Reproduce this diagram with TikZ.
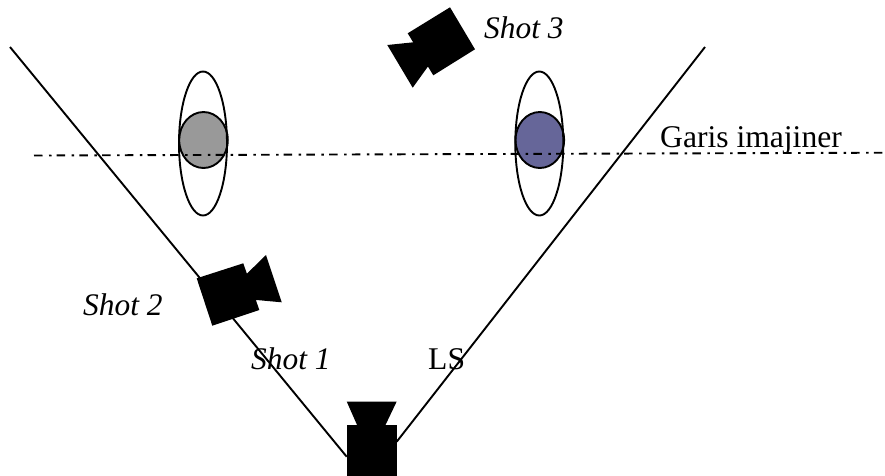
\documentclass[tikz,border=0pt]{standalone}
\usepackage{fontspec}
\setmainfont{Liberation Serif}
\definecolor{greydisc}{HTML}{999999}
\definecolor{bluedisc}{HTML}{666699}
\tikzset{
  x=1pt,y=-1pt,
  ln/.style={draw=black,line width=1.9pt},
  cam/.style={fill=black,draw=none},
  lbl/.style={anchor=base west,inner sep=0pt,font=\fontsize{31.6}{32}\selectfont},
  ilbl/.style={lbl,font=\fontsize{31.4}{32}\selectfont\itshape},
}
\begin{document}
\begin{tikzpicture}
\useasboundingbox (0,0) rectangle (885,475);
\clip (0,0) rectangle (885,475);
% end points
\coordinate (lt) at (10,47);
\coordinate (lb) at (346.7,456.7);
\coordinate (rt) at (705,47);
\coordinate (rb) at (396.7,441.7);
\coordinate (dl) at (34,155.5);
\coordinate (dr) at (885,152.7);
% people
\draw[ln,fill=greydisc] (203.5,140) ellipse [x radius=24.3,y radius=28];
\draw[ln,fill=bluedisc] (539.8,140) ellipse [x radius=24.3,y radius=28];
\draw[ln] (203,143.5) ellipse [x radius=24,y radius=72];
\draw[ln] (539.3,143.5) ellipse [x radius=24,y radius=72];
% lines
\draw[ln] (lt) -- (lb);
\draw[ln] (rt) -- (rb);
\draw[ln,dash pattern=on 8.5pt off 6.5pt on 2.5pt off 5.2pt] (dl) -- (dr);
% cameras
\fill[cam] (346.7,425) rectangle (396.7,476);
\fill[cam] (346.7,401.5) -- (396.7,401.5) -- (385,426) -- (357.5,426) -- cycle;
\fill[cam] (196.7,278.3) -- (243.3,263.3) -- (259.3,310) -- (212.3,325.7) -- cycle;
\fill[cam] (266,255) -- (281.7,302.3) -- (256.7,300) -- (250,303) -- (240,276) -- (247.3,273.3) -- cycle;
\fill[cam] (450,7.3) -- (475,49.3) -- (433.3,75.3) -- (407.7,33.3) -- cycle;
\fill[cam] (387.3,45) -- (413.3,42.3) -- (420,38) -- (436,62) -- (428.3,66) -- (412.7,87.7) -- cycle;
% labels
\node[ilbl] (s3) at (484,38) {Shot 3};
\node[ilbl] (s2) at (83,315) {Shot 2};
\node[ilbl] (s1) at (251,369) {Shot 1};
\node[lbl] (ls) at (428,369) {LS};
\node[lbl] (gi) at (660,147) {Garis imajiner};
\end{tikzpicture}
\end{document}
